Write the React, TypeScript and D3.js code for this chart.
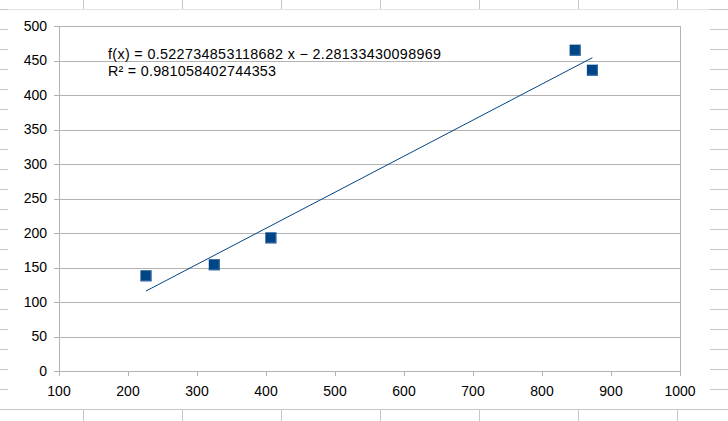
import React from "react";
import * as d3 from "d3";

const xValues = [226, 325, 407, 848, 873];
const yValues = [138, 154, 193, 465, 436];
const xTicks = [100, 200, 300, 400, 500, 600, 700, 800, 900, 1000];
const yTicks = [0, 50, 100, 150, 200, 250, 300, 350, 400, 450, 500];
const slope = 0.522734853118682;
const intercept = -2.28133430098969;
const equationText = "f(x) = 0.522734853118682 x − 2.28133430098969";
const r2Text = "R² = 0.981058402744353";

const W = 728;
const H = 421;
const FONT = "'Liberation Sans', Arial, sans-serif";
const COLOR = "#004586";

export default function App() {
  const x = d3.scaleLinear().domain([100, 1000]).range([59, 680]);
  const y = d3.scaleLinear().domain([0, 500]).range([371, 26]);

  const sheetRows = d3.range(19).map((i) => 29.5 + i * 20);
  const sheetCols = d3.range(7).map((i) => 83.5 + i * 99);

  const xMin = d3.min(xValues) as number;
  const xMax = d3.max(xValues) as number;
  const line = d3
    .line<number>()
    .x((d) => x(d))
    .y((d) => y(slope * d + intercept));

  const ms = 11;

  return (
    <svg
      width={W}
      height={H}
      style={{ position: "absolute", left: 0, top: 0, background: "#fff" }}
      fontFamily={FONT}
    >
      {/* spreadsheet background */}
      {sheetRows.map((r) => (
        <g key={r}>
          <line x1={0} x2={8} y1={r} y2={r} stroke="#c6c6c6" />
          <line x1={710} x2={W} y1={r} y2={r} stroke="#c6c6c6" />
        </g>
      ))}
      {sheetCols.map((c) => (
        <g key={c}>
          <line x1={c} x2={c} y1={0} y2={9} stroke="#c6c6c6" />
          <line x1={c} x2={c} y1={410} y2={H} stroke="#c6c6c6" />
        </g>
      ))}
      <line x1={0} x2={W} y1={9.5} y2={9.5} stroke="#e3e3e3" />
      <line x1={0} x2={8} y1={9.5} y2={9.5} stroke="#c6c6c6" />
      <line x1={710} x2={W} y1={9.5} y2={9.5} stroke="#c6c6c6" />
      <line x1={0} x2={W} y1={409.5} y2={409.5} stroke="#c6c6c6" />

      {/* gridlines */}
      {yTicks.map((t) => (
        <line
          key={t}
          x1={x(100)}
          x2={x(1000)}
          y1={Math.round(y(t)) + 0.5}
          y2={Math.round(y(t)) + 0.5}
          stroke="#b3b3b3"
        />
      ))}
      <line x1={x(1000) + 0.5} x2={x(1000) + 0.5} y1={y(500)} y2={y(0)} stroke="#b3b3b3" />
      <line x1={x(100) + 0.5} x2={x(100) + 0.5} y1={y(500)} y2={y(0) + 5} stroke="#b3b3b3" />
      {/* y ticks */}
      {yTicks.map((t) => (
        <g key={"yt" + t}>
          <line
            x1={x(100) - 5}
            x2={x(100)}
            y1={Math.round(y(t)) + 0.5}
            y2={Math.round(y(t)) + 0.5}
            stroke="#b3b3b3"
          />
          <text
            x={47}
            y={y(t)}
            dy="0.35em"
            textAnchor="end"
            fontSize={14}
            fill="#000"
          >
            {t}
          </text>
        </g>
      ))}
      {/* x ticks */}
      {xTicks.map((t) => (
        <g key={"xt" + t}>
          <line
            x1={Math.round(x(t)) + 0.5}
            x2={Math.round(x(t)) + 0.5}
            y1={y(0)}
            y2={y(0) + 5}
            stroke="#b3b3b3"
          />
          <text x={x(t)} y={395.5} textAnchor="middle" fontSize={14} fill="#000">
            {t}
          </text>
        </g>
      ))}

      {/* trendline */}
      <path d={line([xMin, xMax]) || ""} fill="none" stroke={COLOR} strokeWidth={1} />

      {/* points */}
      {xValues.map((v, i) => (
        <g key={"p" + i}>
          <rect x={x(v) - ms / 2} y={y(yValues[i]) - ms / 2} width={ms} height={ms} fill={COLOR} />
          <line
            x1={x(v) + ms / 2 - 0.5}
            x2={x(v) + ms / 2 - 0.5}
            y1={y(yValues[i]) - ms / 2}
            y2={y(yValues[i]) + ms / 2}
            stroke="#3a6ea5"
          />
          <line
            x1={x(v) - ms / 2}
            x2={x(v) + ms / 2}
            y1={y(yValues[i]) + ms / 2 - 0.5}
            y2={y(yValues[i]) + ms / 2 - 0.5}
            stroke="#3a6ea5"
          />
        </g>
      ))}

      {/* equation */}
      <text x={108} y={58.5} fontSize={14.3} fill="#000" textLength={333} lengthAdjust="spacing">
        {equationText}
      </text>
      <text x={108} y={76} fontSize={14.3} fill="#000" textLength={168} lengthAdjust="spacing">
        {r2Text}
      </text>
    </svg>
  );
}
